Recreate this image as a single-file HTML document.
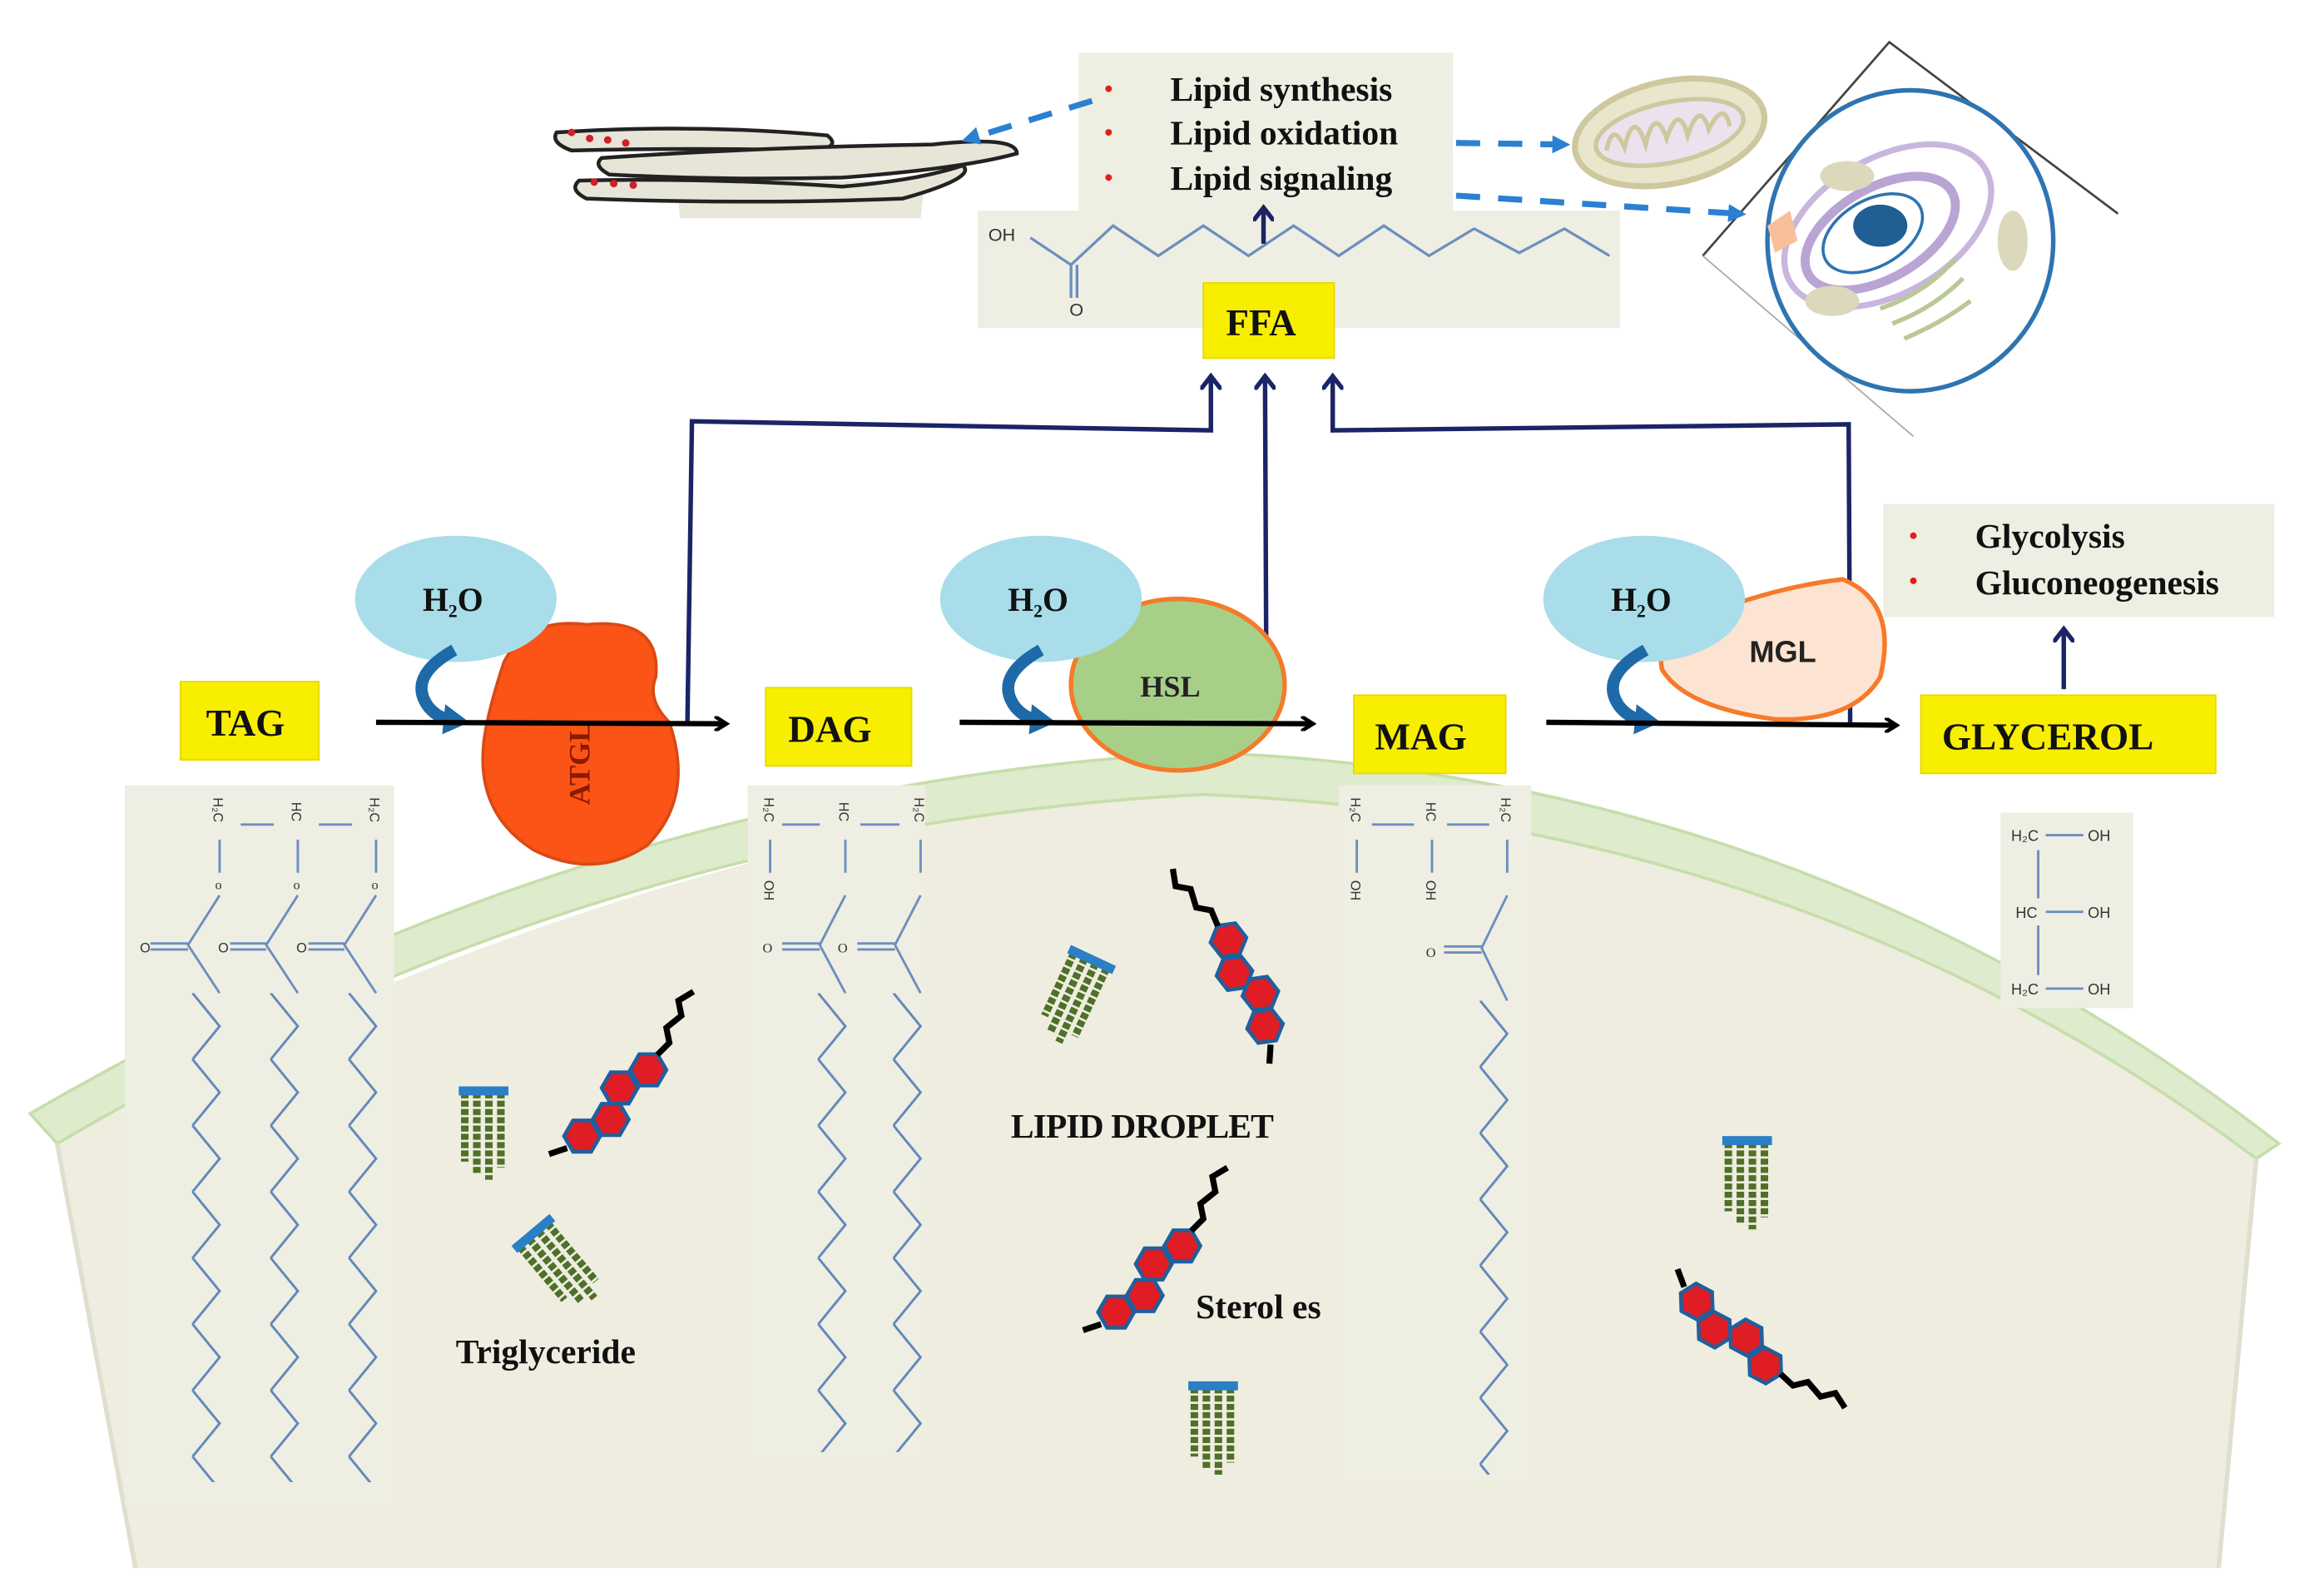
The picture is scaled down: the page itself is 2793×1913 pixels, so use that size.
<!DOCTYPE html>
<html><head><meta charset="utf-8"><style>
html,body{margin:0;padding:0;background:#fff}
svg{display:block}
text{font-family:"Liberation Serif",serif;font-weight:bold}
</style></head><body>
<svg width="2793" height="1913" viewBox="0 0 1545 1058" preserveAspectRatio="none" xmlns="http://www.w3.org/2000/svg">
<defs>
<pattern id="zz" width="24" height="44" patternUnits="userSpaceOnUse">
<polyline points="2,0 20,22 2,44" fill="none" stroke="#5f86b8" stroke-width="1.6"/>
</pattern>
<marker id="ab" markerWidth="10" markerHeight="10" refX="7" refY="5" orient="auto" markerUnits="userSpaceOnUse"><path d="M0,0 L8,5 L0,10" fill="none" stroke="#000" stroke-width="2.5"/></marker>
<marker id="an" markerWidth="14" markerHeight="14" refX="7" refY="7" orient="auto" markerUnits="userSpaceOnUse"><path d="M0,0 L9,7 L0,14" fill="none" stroke="#1a2466" stroke-width="3"/></marker>
<marker id="ad" markerWidth="14" markerHeight="14" refX="6" refY="7" orient="auto" markerUnits="userSpaceOnUse"><path d="M0,1 L12,7 L0,13Z" fill="#2b80d0"/></marker>
<g id="hex"><path d="M-12,0 L-6,-10.4 L6,-10.4 L12,0 L6,10.4 L-6,10.4Z" fill="#e01c24" stroke="#1f5f9e" stroke-width="2.5"/></g>
<g id="sterol">
<use href="#hex" x="0" y="0"/><use href="#hex" x="19" y="-11"/><use href="#hex" x="25" y="-32"/><use href="#hex" x="44" y="-44"/>
<polyline points="50,-54 58,-62 56,-72 66,-80 64,-90 74,-96" fill="none" stroke="#000" stroke-width="4"/>
<polyline points="-10,8 -22,12" fill="none" stroke="#000" stroke-width="4"/>
</g>
<g id="bundle">
<g stroke="#4e7028" stroke-width="5" stroke-dasharray="4,1.5">
<line x1="4" y1="4" x2="4" y2="50"/><line x1="12" y1="4" x2="12" y2="58"/><line x1="20" y1="4" x2="20" y2="62"/><line x1="28" y1="4" x2="28" y2="54"/>
</g>
<rect x="0" y="0" width="33" height="6" fill="#2b7fc4"/>
</g>
</defs>

<path d="M38,760 Q400,560 800,518 Q1200,540 1500,770 L1475,1042 L90,1042 Z" fill="#eeeddf"/>
<path d="M20,740 Q400,520 800,500 Q1200,515 1515,760 L1500,770 Q1200,545 800,528 Q400,548 38,760 Z" fill="#deebcd" stroke="#c6deaa" stroke-width="2"/>
<path d="M38,760 L90,1042" stroke="#e0dfcf" stroke-width="3"/>
<path d="M1500,770 L1475,1042" stroke="#e0dfcf" stroke-width="3"/>

<rect x="83" y="522" width="179" height="478" fill="#efeee3"/>
<rect x="497" y="522" width="118" height="448" fill="#efeee3"/>
<rect x="890" y="522" width="128" height="463" fill="#efeee3"/>
<rect x="1330" y="540" width="88" height="130" fill="#efeee3"/>
<rect x="650" y="140" width="427" height="78" fill="#efeee3"/>
<rect x="717" y="35" width="249" height="105" fill="#efeee3"/>
<rect x="1252" y="335" width="260" height="75" fill="#efeee3"/>

<g fill="none" stroke="#6b8fbf" stroke-width="1.6">
<line x1="160" y1="548" x2="182" y2="548"/><line x1="212" y1="548" x2="234" y2="548"/>
<line x1="146" y1="558" x2="146" y2="580"/><line x1="198" y1="558" x2="198" y2="580"/><line x1="250" y1="558" x2="250" y2="580"/>
<polyline points="146,595 125,628 146,660"/><polyline points="198,595 177,628 198,660"/><polyline points="250,595 229,628 250,660"/>
<line x1="100" y1="627" x2="125" y2="627"/><line x1="100" y1="631" x2="125" y2="631"/>
<line x1="153" y1="627" x2="177" y2="627"/><line x1="153" y1="631" x2="177" y2="631"/>
<line x1="205" y1="627" x2="229" y2="627"/><line x1="205" y1="631" x2="229" y2="631"/>
</g>
<g transform="translate(126,660)"><rect width="24" height="325" fill="url(#zz)"/></g>
<g transform="translate(178,660)"><rect width="24" height="325" fill="url(#zz)"/></g>
<g transform="translate(230,660)"><rect width="24" height="325" fill="url(#zz)"/></g>
<g font-size="9" fill="#333">
<text x="93" y="633" style="font-weight:normal;font-family:Liberation Sans">O</text><text x="145" y="633" style="font-weight:normal;font-family:Liberation Sans">O</text><text x="197" y="633" style="font-weight:normal;font-family:Liberation Sans">O</text>
<text x="143" y="591" style="font-weight:normal">o</text><text x="195" y="591" style="font-weight:normal">o</text><text x="247" y="591" style="font-weight:normal">o</text>
<text transform="translate(142,530) rotate(90)" style="font-weight:normal;font-family:Liberation Sans">H₂C</text>
<text transform="translate(194,533) rotate(90)" style="font-weight:normal;font-family:Liberation Sans">HC</text>
<text transform="translate(246,530) rotate(90)" style="font-weight:normal;font-family:Liberation Sans">H₂C</text>
<text transform="translate(508,530) rotate(90)" style="font-weight:normal;font-family:Liberation Sans">H₂C</text>
<text transform="translate(558,533) rotate(90)" style="font-weight:normal;font-family:Liberation Sans">HC</text>
<text transform="translate(608,530) rotate(90)" style="font-weight:normal;font-family:Liberation Sans">H₂C</text>
<text transform="translate(898,530) rotate(90)" style="font-weight:normal;font-family:Liberation Sans">H₂C</text>
<text transform="translate(948,533) rotate(90)" style="font-weight:normal;font-family:Liberation Sans">HC</text>
<text transform="translate(998,530) rotate(90)" style="font-weight:normal;font-family:Liberation Sans">H₂C</text>
<text transform="translate(508,585) rotate(90)" style="font-weight:normal;font-family:Liberation Sans">OH</text>
<text transform="translate(898,585) rotate(90)" style="font-weight:normal;font-family:Liberation Sans">OH</text>
<text transform="translate(948,585) rotate(90)" style="font-weight:normal;font-family:Liberation Sans">OH</text>
</g>

<g fill="none" stroke="#6b8fbf" stroke-width="1.6">
<line x1="520" y1="548" x2="545" y2="548"/><line x1="572" y1="548" x2="598" y2="548"/>
<line x1="512" y1="558" x2="512" y2="580"/><line x1="562" y1="558" x2="562" y2="580"/><line x1="612" y1="558" x2="612" y2="580"/>
<polyline points="562,595 545,628 562,660"/><polyline points="612,595 595,628 612,660"/>
<line x1="520" y1="627" x2="545" y2="627"/><line x1="520" y1="631" x2="545" y2="631"/>
<line x1="570" y1="627" x2="595" y2="627"/><line x1="570" y1="631" x2="595" y2="631"/>
</g>
<g transform="translate(542,660)"><rect width="24" height="305" fill="url(#zz)"/></g>
<g transform="translate(592,660)"><rect width="24" height="305" fill="url(#zz)"/></g>

<g fill="none" stroke="#6b8fbf" stroke-width="1.6">
<line x1="912" y1="548" x2="940" y2="548"/><line x1="962" y1="548" x2="990" y2="548"/>
<line x1="902" y1="558" x2="902" y2="580"/><line x1="952" y1="558" x2="952" y2="580"/><line x1="1002" y1="558" x2="1002" y2="580"/>
<polyline points="1002,595 985,630 1002,665"/>
<line x1="960" y1="629" x2="985" y2="629"/><line x1="960" y1="633" x2="985" y2="633"/>
</g>
<g transform="translate(982,665)"><rect width="24" height="315" fill="url(#zz)"/></g>
<g font-size="9" fill="#333">
<text x="507" y="633" style="font-weight:normal">O</text><text x="557" y="633" style="font-weight:normal">O</text><text x="948" y="636" style="font-weight:normal">O</text>
</g>

<g font-size="10" fill="#333">
<text x="1337" y="559" style="font-weight:normal;font-family:Liberation Sans">H₂C</text><text x="1388" y="559" style="font-weight:normal;font-family:Liberation Sans">OH</text>
<text x="1340" y="610" style="font-weight:normal;font-family:Liberation Sans">HC</text><text x="1388" y="610" style="font-weight:normal;font-family:Liberation Sans">OH</text>
<text x="1337" y="661" style="font-weight:normal;font-family:Liberation Sans">H₂C</text><text x="1388" y="661" style="font-weight:normal;font-family:Liberation Sans">OH</text>
</g>
<g stroke="#6b8fbf" stroke-width="1.6"><line x1="1360" y1="555" x2="1385" y2="555"/><line x1="1360" y1="606" x2="1385" y2="606"/><line x1="1360" y1="657" x2="1385" y2="657"/><line x1="1355" y1="565" x2="1355" y2="597"/><line x1="1355" y1="615" x2="1355" y2="648"/></g>

<polyline points="685,158 712,176 740,150 770,170 800,150 830,170 860,150 890,170 920,150 950,170 980,152 1010,168 1040,152 1070,170" fill="none" stroke="#6b8fbf" stroke-width="1.8"/>
<line x1="712" y1="176" x2="712" y2="198" stroke="#6b8fbf" stroke-width="1.8"/><line x1="716" y1="176" x2="716" y2="198" stroke="#6b8fbf" stroke-width="1.8"/>
<text x="657" y="160" font-size="12" fill="#333" style="font-family:Liberation Sans;font-weight:normal">OH</text>
<text x="711" y="210" font-size="12" fill="#333" style="font-family:Liberation Sans;font-weight:normal">O</text>

<path d="M450,120 L615,120 L612,145 L452,145 Z" fill="#e8e7d8"/>
<g fill="#e6e5d8" stroke="#222" stroke-width="2.5">
<path d="M370,88 Q460,82 550,90 Q560,98 540,100 Q460,98 380,100 Q366,95 370,88Z"/>
<path d="M400,105 Q500,98 620,96 Q676,90 676,102 Q640,112 560,118 Q480,120 405,116 Q394,110 400,105Z"/>
<path d="M385,120 Q470,118 560,124 Q610,120 640,110 Q650,118 600,132 Q500,136 390,132 Q378,126 385,120Z"/>
</g>
<g fill="#d0202a"><circle cx="380" cy="88" r="2.5"/><circle cx="392" cy="92" r="2.5"/><circle cx="404" cy="93" r="2.5"/><circle cx="416" cy="95" r="2.5"/><circle cx="395" cy="121" r="2.5"/><circle cx="408" cy="122" r="2.5"/><circle cx="421" cy="123" r="2.5"/></g>

<ellipse cx="1110" cy="88" rx="64" ry="34" fill="#eae6cc" stroke="#cfc79e" stroke-width="4" transform="rotate(-12 1110 88)"/>
<ellipse cx="1110" cy="88" rx="50" ry="20" fill="#ece2ee" stroke="#cfc79e" stroke-width="3" transform="rotate(-12 1110 88)"/>
<path d="M1068,100 Q1072,80 1080,98 Q1086,72 1094,96 Q1100,70 1108,92 Q1116,68 1122,90 Q1130,66 1136,86 Q1146,66 1150,84" fill="none" stroke="#cfc79e" stroke-width="3"/>

<polyline points="1132,170 1256,28 1408,142" fill="none" stroke="#444" stroke-width="1.5"/>
<line x1="1132" y1="170" x2="1272" y2="290" stroke="#aaa" stroke-width="1"/>
<ellipse cx="1270" cy="160" rx="95" ry="100" fill="#fff" stroke="#2e74b0" stroke-width="3"/>
<ellipse cx="1250" cy="155" rx="55" ry="30" fill="none" stroke="#b9a4d4" stroke-width="6" transform="rotate(-30 1250 155)"/>
<ellipse cx="1255" cy="150" rx="75" ry="45" fill="none" stroke="#c8b6dc" stroke-width="4" transform="rotate(-30 1255 150)"/>
<ellipse cx="1245" cy="155" rx="36" ry="22" fill="#fff" stroke="#2e74b0" stroke-width="2" transform="rotate(-30 1245 155)"/>
<ellipse cx="1250" cy="150" rx="18" ry="14" fill="#1f5f94"/>
<ellipse cx="1228" cy="117" rx="18" ry="10" fill="#dcd8bc"/><ellipse cx="1218" cy="200" rx="18" ry="10" fill="#dcd8bc"/><ellipse cx="1338" cy="160" rx="10" ry="20" fill="#dcd8bc"/>
<g stroke="#b9c896" stroke-width="3" fill="none"><path d="M1250,205 Q1280,195 1300,172"/><path d="M1258,215 Q1285,205 1305,185"/><path d="M1266,225 Q1290,215 1310,200"/></g>
<path d="M1175,150 L1190,140 L1195,160 L1180,168Z" fill="#f8c09a"/>
<line x1="968" y1="130" x2="1155" y2="142" stroke="#2b80d0" stroke-width="4" stroke-dasharray="16,12" marker-end="url(#ad)"/>
<line x1="968" y1="95" x2="1038" y2="96" stroke="#2b80d0" stroke-width="4" stroke-dasharray="16,12" marker-end="url(#ad)"/>
<line x1="726" y1="67" x2="645" y2="92" stroke="#2b80d0" stroke-width="4" stroke-dasharray="16,12" marker-end="url(#ad)"/>

<g fill="#e0201c"><circle cx="737" cy="59" r="2.2"/><circle cx="737" cy="88" r="2.2"/><circle cx="737" cy="118" r="2.2"/><circle cx="1272" cy="356" r="2.2"/><circle cx="1272" cy="386" r="2.2"/></g>
<g font-size="23" fill="#111">
<text x="778" y="67">Lipid synthesis</text>
<text x="778" y="96">Lipid oxidation</text>
<text x="778" y="126">Lipid signaling</text>
<text x="1313" y="364">Glycolysis</text>
<text x="1313" y="395">Gluconeogenesis</text>
</g>

<g fill="none" stroke="#1a2466" stroke-width="3">
<polyline points="457,480 460,280 805,286 805,252" marker-end="url(#an)"/>
<polyline points="842,480 841,252" marker-end="url(#an)"/>
<polyline points="1230,480 1229,282 886,286 886,252" marker-end="url(#an)"/>
<polyline points="1372,458 1372,420" marker-end="url(#an)"/>
<polyline points="840,162 840,140" marker-end="url(#an)"/>
</g>

<path d="M335,440 Q350,410 390,415 Q440,410 436,450 Q430,465 445,480 Q462,530 430,562 Q395,585 355,565 Q315,540 322,490 Q325,470 335,440Z" fill="#fc5316" stroke="#d84a14" stroke-width="2"/>
<text x="0" y="0" font-size="20" fill="#8a1a00" transform="translate(392,535) rotate(-90)">ATGL</text>
<ellipse cx="783" cy="455" rx="71" ry="57" fill="#a8cf88" stroke="#f57a2a" stroke-width="3"/>
<text x="758" y="463" font-size="20" fill="#222">HSL</text>
<path d="M1130,410 Q1180,390 1225,385 Q1262,400 1250,450 Q1232,480 1180,478 Q1120,470 1105,445 Q1100,425 1130,410Z" fill="#fde3d2" stroke="#f57a2a" stroke-width="3"/>
<text x="1163" y="440" font-size="20" fill="#222" style="font-family:Liberation Sans">MGL</text>
<ellipse cx="303" cy="398" rx="67" ry="42" fill="#a8dde9"/>
<ellipse cx="692" cy="398" rx="67" ry="42" fill="#a8dde9"/>
<ellipse cx="1093" cy="398" rx="67" ry="42" fill="#a8dde9"/>
<g font-size="22" fill="#111"><text x="281" y="406">H<tspan font-size="12" dy="4">2</tspan><tspan dy="-4">O</tspan></text>
<text x="670" y="406">H<tspan font-size="12" dy="4">2</tspan><tspan dy="-4">O</tspan></text>
<text x="1071" y="406">H<tspan font-size="12" dy="4">2</tspan><tspan dy="-4">O</tspan></text></g>
<g fill="none" stroke="#1e6aa8" stroke-width="8"><path d="M302,432 Q270,450 285,470 Q292,478 300,478"/><path d="M692,432 Q660,450 675,470 Q682,478 690,478"/><path d="M1094,432 Q1062,450 1077,470 Q1084,478 1092,478"/></g>
<g fill="#1e6aa8"><path d="M296,468 L312,480 L294,488Z"/><path d="M686,468 L702,480 L684,488Z"/><path d="M1088,468 L1104,480 L1086,488Z"/></g>

<g stroke="#000" stroke-width="3.5"><line x1="250" y1="480" x2="482" y2="481" marker-end="url(#ab)"/><line x1="638" y1="480" x2="872" y2="481" marker-end="url(#ab)"/><line x1="1028" y1="480" x2="1260" y2="482" marker-end="url(#ab)"/></g>

<g fill="#f8ee00" stroke="#e8d800" stroke-width="1">
<rect x="120" y="453" width="92" height="52"/><rect x="509" y="457" width="97" height="52"/><rect x="900" y="462" width="101" height="52"/><rect x="1277" y="462" width="196" height="52"/><rect x="800" y="188" width="87" height="50"/>
</g>
<g font-size="25" fill="#111">
<text x="137" y="489">TAG</text><text x="524" y="493">DAG</text><text x="914" y="498">MAG</text><text x="1291" y="498">GLYCEROL</text><text x="815" y="223">FFA</text>
</g>

<use href="#bundle" x="305" y="722"/>
<use href="#bundle" x="1145" y="755"/>
<use href="#bundle" x="790" y="918"/>
<use href="#bundle" transform="translate(712,628) rotate(25)"/>
<use href="#bundle" transform="translate(340,828) rotate(-40)"/>
<use href="#sterol" transform="translate(387,755)"/>
<use href="#sterol" transform="translate(742,872)"/>
<use href="#sterol" transform="translate(841,682) rotate(-68)"/>
<use href="#sterol" transform="translate(1128,865) rotate(88)"/>
<g font-size="23" fill="#111">
<text x="672" y="756" letter-spacing="-0.5">LIPID DROPLET</text>
<text x="795" y="876">Sterol es</text>
<text x="303" y="906">Triglyceride</text>
</g>
</svg>
</body></html>
